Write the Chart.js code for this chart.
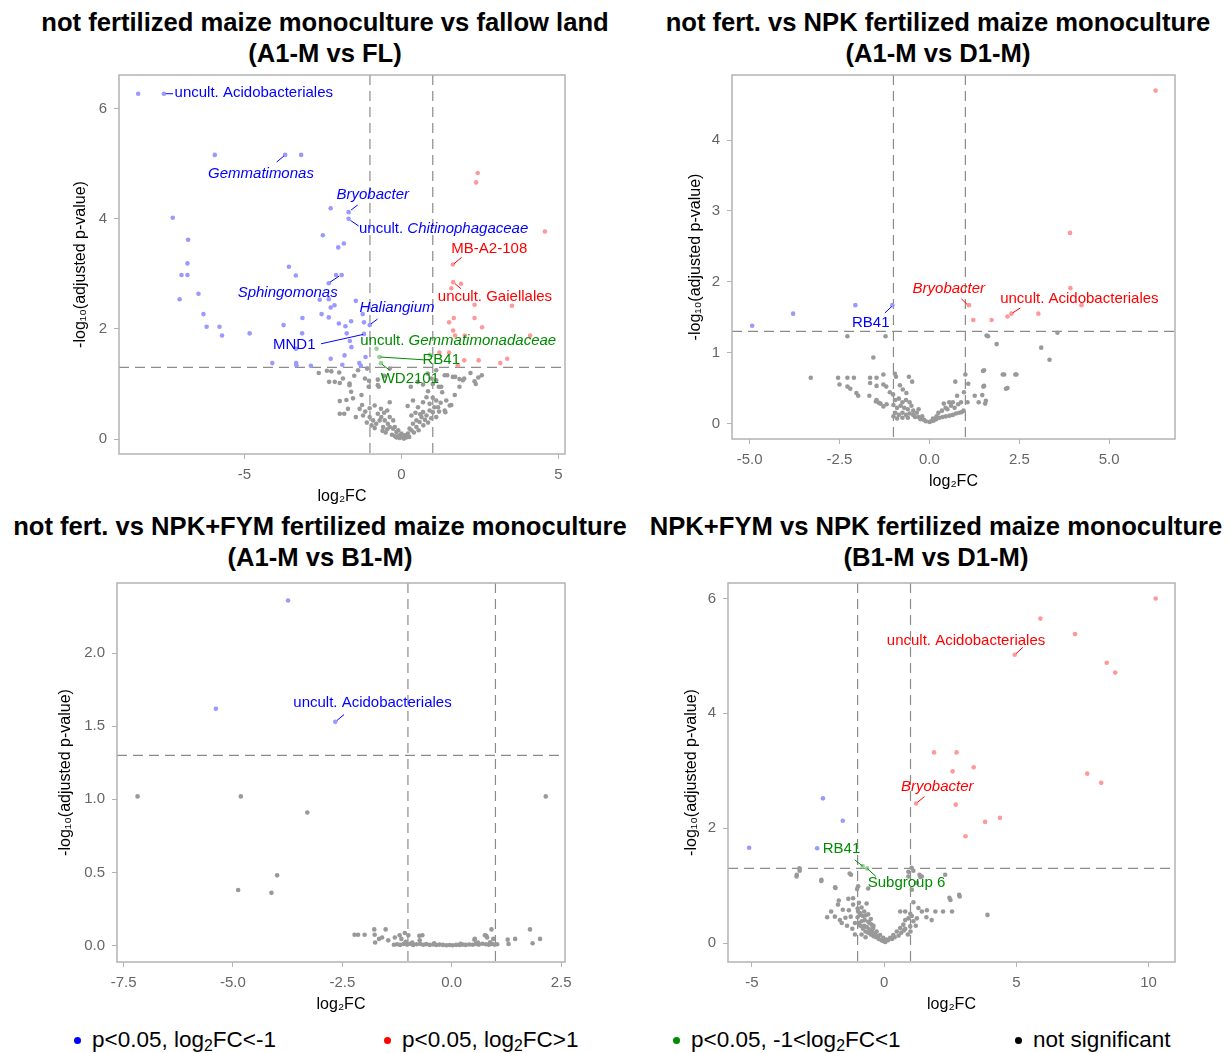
<!DOCTYPE html>
<html>
<head>
<meta charset="utf-8">
<script src="https://cdn.jsdelivr.net/npm/chart.js@4.4.1/dist/chart.umd.min.js"></script>
<style>
  body { margin: 0; width: 1231px; height: 1053px; position: relative; overflow: hidden; background: #fff;
         font-family: "Liberation Sans", Arial, "DejaVu Sans", sans-serif; }
  canvas { position: absolute; }
  .ttl { position: absolute; width: 640px; text-align: center; white-space: nowrap;
         font-weight: bold; font-size: 25.6px; line-height: 31px; color: #000; }
  .dot { position: absolute; top: 1036.5px; width: 7px; height: 7px; border-radius: 50%; }
  .tx { position: absolute; top: 1027px; font-size: 22.5px; line-height: 26px; color: #000; white-space: nowrap; }
  .tx sub { font-size: 70%; vertical-align: -0.25em; line-height: 0; }
</style>
</head>
<body>

<div class="ttl" style="left:5px;top:6.5px">not fertilized maize monoculture vs fallow land<br>(A1-M vs FL)</div>
<div class="ttl" style="left:618px;top:6.5px">not fert. vs NPK fertilized maize monoculture<br>(A1-M vs D1-M)</div>
<div class="ttl" style="left:0px;top:510.5px">not fert. vs NPK+FYM fertilized maize monoculture<br>(A1-M vs B1-M)</div>
<div class="ttl" style="left:616px;top:510.5px">NPK+FYM vs NPK fertilized maize monoculture<br>(B1-M vs D1-M)</div>

<canvas id="c1"></canvas>
<canvas id="c2"></canvas>
<canvas id="c3"></canvas>
<canvas id="c4"></canvas>

<span class="dot" style="left:74px;background:#0000ff"></span>
<span class="tx" style="left:92px">p&lt;0.05, log<sub>2</sub>FC&lt;-1</span>
<span class="dot" style="left:384px;background:#ff0000"></span>
<span class="tx" style="left:402px">p&lt;0.05, log<sub>2</sub>FC&gt;1</span>
<span class="dot" style="left:672.5px;background:#008b00"></span>
<span class="tx" style="left:691px">p&lt;0.05, -1&lt;log<sub>2</sub>FC&lt;1</span>
<span class="dot" style="left:1014.5px;background:#000"></span>
<span class="tx" style="left:1033px">not significant</span>

<script>
// thresholds
const FC_CUT = [-1, 1];
const P_CUT = 1.301;

// ---- A1-M vs FL ----
const p1Blue = [[-8.38,6.27],[-7.56,6.27],[-5.94,5.16],[-3.70,5.16],[-3.19,5.16],[-7.28,4.02],[-2.25,4.19],[-1.68,4.12],
  [-1.68,4.00],[-6.79,3.62],[-2.50,3.70],[-1.83,3.55],[-2.01,3.48],[-6.81,3.19],[-3.58,3.13],[-7.00,2.98],[-6.81,2.98],
  [-3.36,2.97],[-2.08,2.98],[-1.90,2.98],[-2.31,2.83],[-6.46,2.64],[-7.06,2.54],[-2.60,2.53],[-2.31,2.54],[-1.45,2.51],
  [-2.13,2.43],[-2.25,2.39],[-6.30,2.27],[-2.54,2.27],[-1.23,2.27],[-3.15,2.20],[-2.31,2.21],[-6.20,2.04],[-5.79,2.04],
  [-3.75,2.07],[-1.99,2.10],[-1.78,2.05],[-1.60,2.14],[-1.19,2.12],[-1.01,2.07],[-5.71,1.88],[-4.83,1.92],[-3.16,1.92],
  [-1.74,1.92],[-1.19,1.91],[-1.64,1.78],[-1.59,1.67],[-3.36,1.64],[-1.81,1.52],[-1.14,1.49],[-2.25,1.46],[-4.11,1.38],
  [-3.35,1.38],[-3.34,1.34],[-2.88,1.33],[-1.88,1.35],[-1.34,1.38],[-1.29,1.33]];
const p1Red = [[2.43,4.83],[2.38,4.66],[4.57,3.77],[1.64,3.17],[1.65,2.85],[1.90,2.82],[1.59,2.74],[2.33,2.44],[3.52,2.42],
  [1.67,2.20],[2.33,2.20],[1.52,2.12],[2.57,2.03],[1.65,1.97],[1.71,1.88],[2.02,1.88],[4.10,1.88],[1.21,1.57],[1.52,1.57],
  [2.00,1.43],[2.46,1.43],[1.80,1.34],[3.15,1.38],[3.37,1.46]];
const p1Green = [[-0.79,1.64],[-0.70,1.49],[-0.65,1.38],[0.90,1.53]];
const p1Grey = [[-2.63,1.20],[-2.37,1.24],[-2.23,1.23],[-1.98,1.21],[-1.38,1.25],[-1.09,1.28],[-0.37,1.28],[1.11,1.25],
  [1.38,1.16],[1.64,1.13],[1.85,1.09],[1.96,1.07],[2.33,1.05],[2.56,1.16],[2.45,1.12],[-2.30,1.04],[-2.12,1.04],[-1.86,1.10],
  [-1.65,1.01],[-1.03,1.06],[-0.75,1.08],[-0.75,0.98],[0.69,0.99],[1.00,1.00],[1.11,1.07],[1.27,0.95],[0.85,0.87],[1.00,0.75],
  [-1.65,0.98],[-1.60,0.86],[-1.27,0.80],[-1.96,0.69],[-1.75,0.71],[-1.54,0.74],[-1.70,0.55],[-1.33,0.55],[-1.01,0.56],
  [-0.85,0.61],[-0.37,0.67],[0.37,0.70],[0.69,0.67],[0.80,0.76],[0.90,0.64],[1.11,0.70],[1.17,0.58],[1.38,0.52],[1.54,0.61],
  [1.43,0.70],[1.59,0.62],[1.40,0.49],[-1.82,0.46],[-1.96,0.46],[-1.22,0.43],[-1.01,0.40],[-0.90,0.34],[-0.75,0.46],
  [-0.69,0.34],[-0.53,0.34],[-0.43,0.28],[-0.37,0.22],[-0.21,0.22],[-0.10,0.16],[0.00,0.10],[0.10,0.07],[0.21,0.10],
  [0.32,0.16],[0.48,0.22],[0.58,0.31],[0.64,0.40],[0.80,0.43],[0.90,0.52],[1.00,0.49],[1.11,0.40],[0.48,0.34],[0.37,0.28],
  [0.26,0.19],[0.05,0.05],[-0.05,0.07],[-0.16,0.13],[-0.26,0.19],[-0.58,0.22],[-0.64,0.40],[-0.37,0.40],[-0.26,0.34],
  [0.32,0.43],[0.69,0.49],[0.53,0.58],[-0.95,0.25],[-0.85,0.20],[-0.80,0.28],[-0.60,0.15],[-0.50,0.12],[-0.45,0.18],
  [-0.30,0.08],[-0.20,0.05],[-0.15,0.03],[0.15,0.03],[0.25,0.04],[0.40,0.12],[0.55,0.16],[0.70,0.25],[0.75,0.35],[0.85,0.30],
  [0.95,0.38],[1.05,0.58],[1.20,0.50],[1.25,0.66],[-1.10,0.30],[-1.15,0.50],[-0.65,0.55],[-0.55,0.48],[0.60,0.45],
  [-0.05,0.02],[0.08,0.01],[-0.10,0.05],[0.18,0.08],[1.30,0.85],[-1.45,0.40],[-1.25,0.62],[-0.45,0.52],[0.20,0.60],
  [0.45,0.48],[1.70,0.80],[1.85,0.95],[2.20,1.20],[-0.55,1.15],[-1.50,1.15],[0.30,0.95],[-1.96,1.02],[-1.16,1.10],
  [-0.72,0.95],[-1.04,0.95],[0.52,1.04],[0.84,1.19],[0.96,1.10],[1.19,0.95],[1.46,1.16],[1.71,1.13],[2.00,1.10],[2.37,1.00]];

// ---- A1-M vs D1-M ----
const p2Blue = [[-4.93,1.38],[-3.79,1.55],[-2.06,1.67],[-1.03,1.67]];
const p2Red = [[6.29,4.70],[3.91,2.69],[3.92,1.91],[1.10,1.67],[1.22,1.46],[1.73,1.46],[2.17,1.51],[2.28,1.55],
  [3.03,1.55],[4.23,1.67]];
const p2Green = [];
const p2Grey = [[-2.28,1.23],[-1.22,1.23],[1.59,1.24],[1.63,1.23],[1.87,1.12],[3.11,1.07],[3.34,0.90],[3.56,1.28],
  [-1.56,0.93],[-3.30,0.645],[-2.54,0.645],[-2.28,0.645],[-2.10,0.645],[-1.65,0.645],[-1.47,0.645],[-1.28,0.69],
  [-0.96,0.70],[-0.93,0.66],[-0.57,0.66],[-0.48,0.59],[0.72,0.59],[1.00,0.69],[1.08,0.56],[1.49,0.74],[1.50,0.52],
  [2.04,0.69],[2.39,0.69],[2.13,0.49],[-2.50,0.55],[-2.28,0.52],[-2.20,0.49],[-2.03,0.43],[-1.98,0.39],[-1.65,0.57],
  [-1.47,0.53],[-1.28,0.55],[-1.20,0.52],[-1.67,0.39],[-1.47,0.33],[-1.40,0.29],[-1.28,0.24],[-1.10,0.44],[-1.01,0.41],
  [-0.82,0.54],[-0.74,0.48],[-0.64,0.43],[1.47,0.40],[1.57,0.32],[1.26,0.39],[1.37,0.30],[1.06,0.30],[0.96,0.44],
  [0.77,0.39],[1.55,0.28],[-0.95,0.33],[-0.85,0.35],[-0.75,0.30],[-0.65,0.33],[-0.55,0.30],[-1.00,0.26],[-0.90,0.22],
  [-0.80,0.25],[-0.70,0.22],[-0.60,0.20],[-0.50,0.25],[-0.45,0.18],[-0.95,0.15],[-0.85,0.12],[-0.75,0.15],[-0.65,0.12],
  [-0.55,0.14],[-0.45,0.12],[-0.40,0.09],[-0.30,0.09],[-0.25,0.06],[-0.15,0.05],[-0.10,0.03],[0.00,0.02],[0.05,0.03],
  [0.12,0.04],[0.19,0.06],[0.28,0.08],[0.37,0.09],[0.46,0.10],[0.56,0.11],[0.65,0.12],[0.74,0.14],[0.83,0.15],[0.90,0.16],
  [0.95,0.18],[0.50,0.20],[0.60,0.25],[0.70,0.22],[0.80,0.27],[0.88,0.30],[0.55,0.30],[0.45,0.22],[0.35,0.18],[0.25,0.15],
  [0.40,0.28],[0.65,0.30],[-0.35,0.15],[-0.20,0.10],[-0.60,0.08],[-0.75,0.08],[-0.90,0.07],[-1.00,0.10],[-0.30,0.20],
  [0.20,0.10],[0.10,0.07],[-1.49,0.31],[-1.36,0.28],[-1.19,0.27],[1.52,0.75],[1.52,0.53],[2.08,0.69],[2.42,0.69],[2.17,0.50]];

// ---- A1-M vs B1-M ----
const p3Blue = [[-3.74,2.36],[-5.39,1.62],[-2.66,1.53]];
const p3Red = [];
const p3Green = [];
const p3Grey = [[-7.18,1.02],[-4.82,1.02],[-3.30,0.91],[-3.99,0.48],[-4.88,0.38],[-4.12,0.36],[2.15,1.02],
  [-2.22,0.073],[-2.14,0.073],[-1.99,0.073],[-1.77,0.11],[-1.76,0.073],[-1.75,0.02],[-1.66,0.045],[-1.59,0.055],
  [-1.51,0.11],[-1.45,0.035],[-1.30,0.055],[-1.19,0.07],[-1.15,0.045],[-1.07,0.085],[-0.99,0.07],[-0.67,0.07],
  [-0.73,0.035],[0.53,0.045],[0.76,0.07],[0.81,0.055],[0.91,0.11],[0.95,0.045],[1.28,0.04],[1.30,0.01],[1.45,0.045],
  [1.79,0.11],[1.85,0.015],[2.02,0.045],[-1.32,0.005],[-1.25,0.008],[-1.18,0.004],[-1.10,0.01],[-1.02,0.006],
  [-0.95,0.012],[-0.88,0.004],[-0.80,0.008],[-0.72,0.01],[-0.65,0.005],[-0.58,0.009],[-0.50,0.004],[-0.42,0.007],
  [-0.35,0.003],[-0.28,0.006],[-0.20,0.004],[-0.12,0.002],[-0.05,0.003],[0.02,0.002],[0.10,0.004],[0.18,0.003],
  [0.25,0.006],[0.32,0.004],[0.40,0.007],[0.48,0.005],[0.55,0.01],[0.62,0.006],[0.70,0.012],[0.78,0.008],[0.85,0.005],
  [0.92,0.01],[0.98,0.006],[1.04,0.008],[-0.90,0.02],[-1.05,0.025],[0.60,0.02],[0.88,0.022],[-0.40,0.015],[0.20,0.012],
  [-0.74,0.067],[0.52,0.04],[0.79,0.067]];

// ---- B1-M vs D1-M ----
const p4Blue = [[-5.10,1.66],[-2.31,2.52],[-1.56,2.13],[-2.53,1.65]];
const p4Red = [[10.27,6.00],[5.91,5.65],[7.22,5.38],[4.94,5.02],[8.42,4.88],[8.74,4.71],[1.89,3.32],[2.74,3.32],
  [2.59,2.99],[3.39,3.06],[7.68,2.95],[8.21,2.79],[1.21,2.43],[2.71,2.41],[3.82,2.11],[4.38,2.18],[3.08,1.86]];
const p4Green = [[-0.81,1.34],[-0.64,1.30]];
const p4Grey = [[-3.19,1.26],[-3.31,1.16],[-2.37,1.08],[-1.84,0.96],[-1.30,1.21],[-1.02,0.94],[-0.98,0.99],[-0.60,0.95],
  [-1.17,0.78],[-1.35,0.77],[-1.71,0.74],[-1.74,0.67],[-1.56,0.58],[-1.33,0.57],[-1.17,0.67],[-0.66,0.69],[-1.86,0.46],
  [-1.67,0.40],[-1.46,0.44],[-1.26,0.46],[-0.98,0.55],[-0.92,0.49],[-0.80,0.47],[-0.73,0.40],[-0.60,0.37],[-0.47,0.32],
  [-0.41,0.26],[-0.28,0.20],[-0.15,0.14],[-0.03,0.09],[0.10,0.06],[0.23,0.09],[0.35,0.14],[0.48,0.20],[0.61,0.26],
  [0.73,0.32],[0.80,0.40],[0.92,0.43],[1.05,0.47],[1.24,0.43],[1.11,0.38],[0.99,0.29],[0.80,0.25],[0.61,0.55],[0.80,0.55],
  [0.99,0.51],[1.30,0.61],[1.43,0.55],[1.62,0.57],[1.94,0.55],[2.23,0.55],[2.57,0.55],[2.51,0.75],[2.86,0.81],[1.11,0.71],
  [1.05,0.93],[1.24,1.05],[1.37,1.15],[1.11,1.26],[0.92,1.16],[1.43,1.16],[0.92,1.24],[3.91,0.49],[2.47,0.79],[2.84,0.84],
  [1.34,1.19],[2.31,1.19],[-1.25,1.19],[-1.85,0.97],[-2.37,1.10],[-3.30,1.19],[-3.20,1.30],[1.04,1.31],[-1.00,0.45],
  [-0.95,0.35],[-0.90,0.30],[-0.85,0.38],[-0.80,0.25],[-0.75,0.30],[-0.70,0.20],[-0.65,0.28],[-0.60,0.18],[-0.55,0.24],
  [-0.50,0.15],[-0.45,0.20],[-0.40,0.12],[-0.35,0.16],[-0.30,0.10],[-0.25,0.12],[-0.20,0.07],[-0.10,0.05],[0.00,0.03],
  [0.05,0.02],[-0.05,0.04],[0.15,0.05],[0.30,0.07],[0.40,0.10],[0.55,0.13],[0.65,0.18],[0.75,0.22],[-1.00,0.60],
  [-0.95,0.70],[-0.85,0.62],[-0.75,0.55],[-0.70,0.48],[-0.60,0.50],[-0.50,0.42],[-0.55,0.35],[-0.40,0.30],[-0.90,0.52],
  [-1.10,0.35],[-1.20,0.25],[-1.40,0.30],[-1.60,0.35],[-1.10,0.15],[-0.85,0.15],[-0.70,0.10],[1.00,0.20],[1.20,0.30],
  [0.90,0.15],[1.60,0.45],[1.80,0.40],[-2.00,0.55],[-2.15,0.45]];

// tick values per panel
const p1XTicks = [-5, 0, 5], p1YTicks = [0, 2, 4, 6];
const p2XTicks = [-5, -2.5, 0, 2.5, 5], p2YTicks = [0, 1, 2, 3, 4];
const p3XTicks = [-7.5, -5, -2.5, 0, 2.5], p3YTicks = [0, 0.5, 1, 1.5, 2];
const p4XTicks = [-5, 0, 5, 10], p4YTicks = [0, 2, 4, 6];

const BLUE = '#0000ff', RED = '#ff0000', GREEN = '#008b00';

// labels: text parts [text, italic], label anchor, leader line from/to (data units)
const p1Labels = [
  { parts: [['uncult. Acidobacteriales', 0]], color: BLUE, at: [-7.22, 6.28], align: 'left', from: [-7.50, 6.27], to: [-7.27, 6.27] },
  { parts: [['Gemmatimonas', 1]], color: BLUE, at: [-4.47, 4.82], from: [-3.97, 5.03], to: [-3.74, 5.14] },
  { parts: [['Bryobacter', 1]], color: BLUE, at: [-0.91, 4.44], from: [-1.60, 4.16], to: [-1.39, 4.25] },
  { parts: [['uncult. ', 0], ['Chitinophagaceae', 1]], color: BLUE, at: [-1.35, 3.82], align: 'left', from: [-1.62, 3.97], to: [-1.36, 3.87] },
  { parts: [['MB-A2-108', 0]], color: RED, at: [2.80, 3.45], from: [1.67, 3.18], to: [1.92, 3.30] },
  { parts: [['Sphingomonas', 1]], color: BLUE, at: [-3.62, 2.65], from: [-2.27, 2.85], to: [-1.98, 2.96] },
  { parts: [['uncult. Gaiellales', 0]], color: RED, at: [2.98, 2.58], from: [1.71, 2.82], to: [1.90, 2.73] },
  { parts: [['Haliangium', 1]], color: BLUE, at: [-0.14, 2.39], from: [-0.97, 2.09], to: [-0.76, 2.18] },
  { parts: [['MND1', 0]], color: BLUE, at: [-3.41, 1.72], from: [-2.56, 1.73], to: [-1.22, 1.90] },
  { parts: [['uncult. ', 0], ['Gemmatimonadaceae', 1]], color: GREEN, at: [-1.31, 1.79], align: 'left' },
  { parts: [['RB41', 0]], color: GREEN, at: [1.27, 1.43], from: [-0.66, 1.49], to: [0.71, 1.44] },
  { parts: [['WD2101', 0]], color: GREEN, at: [0.27, 1.10], from: [-0.62, 1.36], to: [-0.37, 1.25] }
];
const p2Labels = [
  { parts: [['RB41', 0]], color: BLUE, at: [-1.63, 1.42], from: [-1.24, 1.56], to: [-1.05, 1.65] },
  { parts: [['Bryobacter', 1]], color: RED, at: [0.54, 1.90], from: [0.89, 1.76], to: [1.05, 1.68] },
  { parts: [['uncult. Acidobacteriales', 0]], color: RED, at: [4.17, 1.76], from: [2.31, 1.56], to: [2.53, 1.63] }
];
const p3Labels = [
  { parts: [['uncult. Acidobacteriales', 0]], color: BLUE, at: [-1.81, 1.66], from: [-2.62, 1.54], to: [-2.46, 1.58] }
];
const p4Labels = [
  { parts: [['uncult. Acidobacteriales', 0]], color: RED, at: [3.10, 5.27], from: [4.99, 5.04], to: [5.25, 5.15] },
  { parts: [['Bryobacter', 1]], color: RED, at: [2.01, 2.72], from: [1.26, 2.45], to: [1.53, 2.55] },
  { parts: [['RB41', 0]], color: GREEN, at: [-1.61, 1.64], from: [-1.11, 1.45], to: [-0.81, 1.34] },
  { parts: [['Subgroup 6', 0]], color: GREEN, at: [0.85, 1.04], from: [-0.64, 1.30], to: [-0.31, 1.16] }
];

const FAMILY = '"Liberation Sans", Arial, "DejaVu Sans", sans-serif';
Chart.defaults.font.family = FAMILY;
const FRAME = '#b3b3b3';
const TICK_TXT = '#666666';

function decor(labels) {
  return {
    id: 'decor',
    beforeDatasetsDraw(chart) {
      const { ctx, chartArea: a, scales: { x, y } } = chart;
      ctx.save();
      ctx.strokeStyle = '#8c8c8c';
      ctx.lineWidth = 1.2;
      ctx.setLineDash([10, 6]);
      FC_CUT.forEach(v => {
        const px = x.getPixelForValue(v);
        ctx.beginPath(); ctx.moveTo(px, a.top); ctx.lineTo(px, a.bottom); ctx.stroke();
      });
      const py = y.getPixelForValue(P_CUT);
      ctx.beginPath(); ctx.moveTo(a.left, py); ctx.lineTo(a.right, py); ctx.stroke();
      ctx.restore();
    },
    afterDatasetsDraw(chart) {
      const { ctx, chartArea: a, scales: { x, y } } = chart;
      ctx.save();
      const fnt = it => (it ? 'italic ' : '') + '15px ' + FAMILY;
      labels.forEach(lb => {
        if (lb.from) {
          ctx.strokeStyle = lb.color;
          ctx.lineWidth = 1;
          ctx.beginPath();
          ctx.moveTo(x.getPixelForValue(lb.from[0]), y.getPixelForValue(lb.from[1]));
          ctx.lineTo(x.getPixelForValue(lb.to[0]), y.getPixelForValue(lb.to[1]));
          ctx.stroke();
        }
        const widths = lb.parts.map(p => { ctx.font = fnt(p[1]); return ctx.measureText(p[0]).width; });
        const total = widths.reduce((s, w) => s + w, 0);
        let px = x.getPixelForValue(lb.at[0]);
        if (lb.align !== 'left') px -= total / 2;
        const py = y.getPixelForValue(lb.at[1]);
        ctx.fillStyle = lb.color;
        ctx.textBaseline = 'middle';
        ctx.textAlign = 'left';
        lb.parts.forEach((p, i) => { ctx.font = fnt(p[1]); ctx.fillText(p[0], px, py); px += widths[i]; });
      });
      ctx.strokeStyle = FRAME;
      ctx.lineWidth = 1.5;
      ctx.strokeRect(a.left, a.top, a.right - a.left, a.bottom - a.top);
      ctx.restore();
    }
  };
}

function pts(arr, color) {
  return {
    data: arr.map(([x, y]) => ({ x, y })),
    backgroundColor: color,
    borderWidth: 0,
    pointRadius: 2.3
  };
}

function noPad(s) {
  s.paddingTop = 0; s.paddingBottom = 0; s.paddingLeft = 0; s.paddingRight = 0;
}

function makeVolcano(id, box, xr, yr, xTicks, yTicks, xDec, yDec, sets, labels) {
  const cv = document.getElementById(id);
  const left = box.L - 75, top = box.T - 5;
  const w = box.R - left + 20, h = box.B - top + 60;
  cv.style.left = left + 'px'; cv.style.top = top + 'px';
  cv.width = w; cv.height = h;
  cv.style.width = w + 'px'; cv.style.height = h + 'px';
  const tickFont = { size: 15 };
  const axisBase = dec => ({
    type: 'linear',
    ticks: { callback: v => dec ? v.toFixed(dec) : String(v), color: TICK_TXT, font: tickFont, padding: 7,
             autoSkip: false, maxRotation: 0 },
    grid: { drawOnChartArea: false, tickLength: 5, color: FRAME, lineWidth: 1 },
    border: { display: false }
  });
  new Chart(cv, {
    type: 'scatter',
    data: {
      datasets: [
        pts(sets.grey, '#999999'),
        pts(sets.blue, '#9999ff'),
        pts(sets.red, '#ff9999'),
        pts(sets.green, '#99d199')
      ]
    },
    options: {
      responsive: false,
      animation: false,
      events: [],
      layout: { padding: { left: 0, right: 20, top: 5, bottom: 0 } },
      plugins: { legend: { display: false }, tooltip: { enabled: false } },
      scales: {
        x: Object.assign(axisBase(xDec), {
          min: xr[0], max: xr[1],
          afterBuildTicks: s => { s.ticks = xTicks.map(v => ({ value: v })); },
          afterFit: s => { s.height = 60; noPad(s); },
          title: { display: true, text: 'log₂FC', color: '#000', font: { size: 16 }, padding: { top: 0, bottom: 7.4 } }
        }),
        y: Object.assign(axisBase(yDec), {
          min: yr[0], max: yr[1],
          afterBuildTicks: s => { s.ticks = yTicks.map(v => ({ value: v })); },
          afterFit: s => { s.width = 75; noPad(s); },
          title: { display: true, text: '-log₁₀(adjusted p-value)', color: '#000', font: { size: 16 },
                   padding: { top: box.yTitle - left - 9.6, bottom: 0 } }
        })
      }
    },
    plugins: [decor(labels)]
  });
}

makeVolcano('c1', { L: 119, R: 565, T: 75, B: 454, yTitle: 80.7 }, [-8.99, 5.21], [-0.27, 6.61],
  p1XTicks, p1YTicks, 0, 0, { grey: p1Grey, blue: p1Blue, red: p1Red, green: p1Green }, p1Labels);
makeVolcano('c2', { L: 732, R: 1175, T: 75, B: 439, yTitle: 695.7 }, [-5.49, 6.83], [-0.22, 4.92],
  p2XTicks, p2YTicks, 1, 0, { grey: p2Grey, blue: p2Blue, red: p2Red, green: p2Green }, p2Labels);
makeVolcano('c3', { L: 117, R: 565, T: 583, B: 962, yTitle: 66 }, [-7.65, 2.59], [-0.113, 2.48],
  p3XTicks, p3YTicks, 1, 1, { grey: p3Grey, blue: p3Blue, red: p3Red, green: p3Green }, p3Labels);
makeVolcano('c4', { L: 728, R: 1175, T: 583, B: 962, yTitle: 691.6 }, [-5.9, 11.0], [-0.33, 6.27],
  p4XTicks, p4YTicks, 0, 0, { grey: p4Grey, blue: p4Blue, red: p4Red, green: p4Green }, p4Labels);
</script>
</body>
</html>
